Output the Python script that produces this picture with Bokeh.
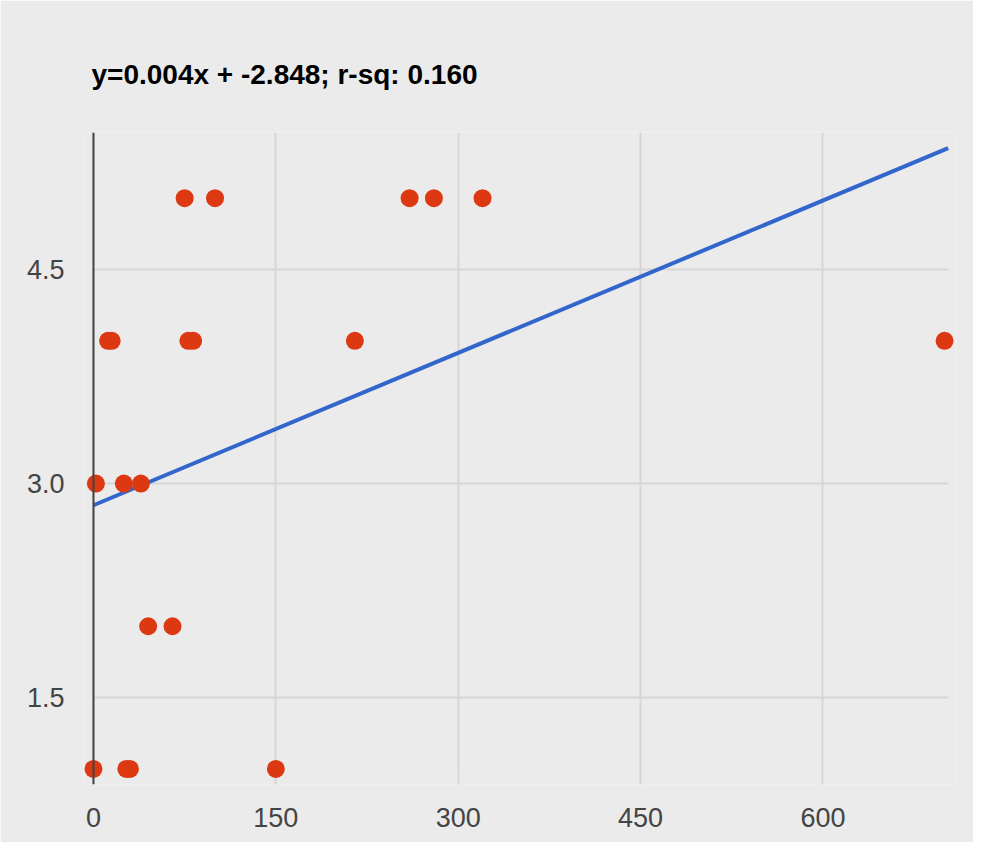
from bokeh.plotting import figure
from bokeh.models import FixedTicker, NumeralTickFormatter, Span, Range1d
from bokeh.embed import file_html
from bokeh.resources import INLINE

# data
pts_x = [0, 2, 12, 15, 25, 39, 45, 65, 27, 30, 75, 100, 78, 82, 150, 215, 260, 280, 320, 700]
pts_y = [1, 3, 4, 4, 3, 3, 2, 2, 1, 1, 5, 5, 4, 4, 1, 4, 5, 5, 5, 4]
trend_x = [0, 703]
trend_y = [2.848, 5.35]
x_ticks = [0, 150, 300, 450, 600]
y_ticks = [1.5, 3.0, 4.5]
title_text = "y=0.004x + -2.848; r-sq: 0.160"

BG = "#ebebeb"
GRID = "#d6d6d6"

p = figure(width=973, height=842, output_backend="svg", toolbar_location=None,
           x_range=Range1d(-8.2, 709), y_range=Range1d(0.891, 5.46),
           min_border_left=83, min_border_right=18, min_border_top=132, min_border_bottom=58,
           background_fill_color=BG, border_fill_color=BG, outline_line_color=None)

p.title.text = title_text
p.title.text_font = "Liberation Sans"
p.title.text_font_size = "28px"
p.title.text_font_style = "bold"
p.title.text_color = "#000000"
p.title.align = "left"
p.title.offset = 8
p.title.standoff = 86

# axes
p.xaxis.ticker = FixedTicker(ticks=x_ticks)
p.yaxis.ticker = FixedTicker(ticks=y_ticks)
p.yaxis.formatter = NumeralTickFormatter(format="0.0")
for ax in (p.xaxis, p.yaxis):
    ax.axis_line_color = None
    ax.major_tick_line_color = None
    ax.minor_tick_line_color = None
    ax.major_label_text_font = "Liberation Sans"
    ax.major_label_text_font_size = "27px"
    ax.major_label_text_color = "#444444"
p.xaxis.major_label_standoff = 17
p.yaxis.major_label_standoff = 13

p.xgrid.ticker = FixedTicker(ticks=x_ticks)
p.xgrid.grid_line_color = GRID
p.xgrid.grid_line_width = 2
p.ygrid.grid_line_color = None

# horizontal gridlines limited to the chart area (x from 0 to range end)
p.segment(x0=[trend_x[0]] * len(y_ticks), x1=[trend_x[1]] * len(y_ticks),
          y0=y_ticks, y1=y_ticks, line_color=GRID, line_width=2)

# vertical axis line at x=0
p.add_layout(Span(location=0, dimension="height", line_color="#444444", line_width=2))

p.line(trend_x, trend_y, line_color="#3366cc", line_width=4)
p.scatter(pts_x, pts_y, size=18, fill_color="#dc3912", line_color=None)

open("out.html", "w").write(file_html(p, INLINE))
